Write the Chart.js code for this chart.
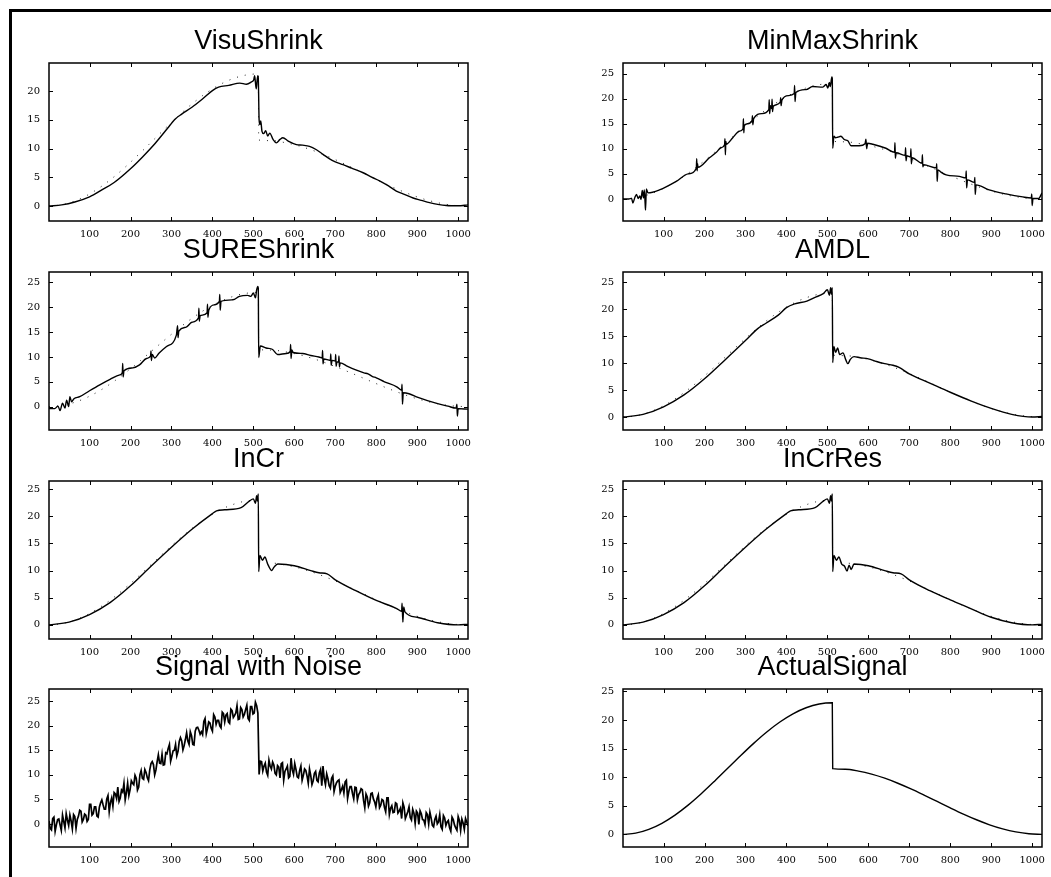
<!DOCTYPE html>
<html>
<head>
<meta charset="utf-8">
<script src="https://cdn.jsdelivr.net/npm/chart.js@4.4.0/dist/chart.umd.min.js"></script>
<style>
  body { margin: 0; background: #fff; }
  #page { position: relative; width: 1051px; height: 877px; overflow: hidden; background: #fff; }
  #frame { position: absolute; left: 9px; top: 9px; width: 1100px; height: 900px;
           border-left: 3px solid #000; border-top: 3px solid #000; }
  .panel { position: absolute; }
</style>
</head>
<body>
<div id="page"><div id="frame"></div></div>
<script>
// sample positions shown on the x axis, and y tick values
const xTicks = [100, 200, 300, 400, 500, 600, 700, 800, 900, 1000];
const yTicks = [0, 5, 10, 15, 20, 25];

// the clean signal (drawn dotted under each denoised curve)
const actualSignal = [[1,0],[32,0.22],[64,0.88],[96,1.94],[128,3.37],[160,5.11],[192,7.10],[224,9.26],[256,11.5],
  [288,13.74],[320,15.9],[352,17.89],[384,19.63],[416,21.06],[448,22.12],[480,22.78],[512,23.0],[513,11.5],
  [544,11.39],[576,11.06],[608,10.53],[640,9.82],[672,8.94],[704,7.95],[736,6.87],[768,5.75],[800,4.63],
  [832,3.55],[864,2.56],[896,1.68],[928,0.97],[960,0.44],[992,0.11],[1024,0]];

const visuShrink = [[1,0.0],[32,0.2],[64,0.7],[100,1.6],[130,2.8],[160,4.1],[200,6.5],[230,8.6],[260,10.9],
  [290,13.5],[310,15.2],[325,16.0],[350,17.2],[375,18.6],[400,20.1],[415,20.7],[440,21.0],[467,21.4],[483,21.2],
  [495,21.6],[501,22.0],[503,22.7],[505,21.5],[507,20.4],[509,21.8],[511,22.7],[512,22.3],[514,15.0],[516,14.2],
  [518,14.8],[521,13.0],[525,12.6],[530,13.1],[535,12.2],[540,12.7],[548,11.6],[556,11.0],[565,11.6],[572,11.9],
  [585,11.3],[605,10.7],[620,10.6],[637,10.4],[654,9.8],[670,9.0],[686,8.2],[700,7.7],[719,7.2],[740,6.6],
  [768,5.8],[790,5.0],[808,4.4],[830,3.5],[849,2.6],[870,2.0],[890,1.4],[910,1.0],[930,0.6],[950,0.3],[971,0.1],
  [1000,0.05],[1024,0.2]];

const minMaxShrink = [[1,0],[15,0],[22,0.1],[25,-0.8],[30,0.3],[34,0.9],[38,0.1],[42,0.6],[45,-0.1],[48,1.7],
  [51,0.2],[53,1.8],[55,-0.8],[56,-2.2],[58,2.0],[62,1.2],[90,1.8],[131,3.5],[160,5.0],[180,6.1],[181,8.0],
  [182,5.6],[183,7.0],[184,6.3],[212,8.2],[229,9.3],[240,10.2],[249,10.8],[250,12.0],[251,8.8],[252,11.4],
  [253,10.9],[269,12.2],[285,13.5],[294,14.0],[295,16.0],[296,13.2],[297,14.6],[305,15.0],[316,15.6],[317,16.6],
  [318,14.8],[320,16.0],[340,17.0],[357,17.8],[358,19.8],[359,17.0],[361,18.6],[364,18.0],[365,19.9],[366,17.4],
  [368,18.5],[385,19.3],[386,20.2],[387,18.6],[389,19.7],[405,20.6],[419,21.0],[420,22.6],[421,19.4],[423,21.2],
  [448,21.8],[464,22.4],[489,22.3],[497,22.8],[501,22.1],[505,23.2],[507,22.4],[511,24.3],[512,24.0],[513,10.1],
  [516,12.5],[520,12.2],[525,12.3],[533,12.5],[542,11.8],[550,11.6],[558,10.6],[578,10.6],[592,11.0],[594,11.9],
  [596,10.0],[598,11.1],[611,10.9],[643,10.1],[664,9.3],[665,11.2],[666,8.1],[668,9.2],[690,8.7],[691,10.2],
  [692,7.6],[694,8.6],[703,8.4],[704,10.0],[705,7.0],[707,8.2],[731,7.1],[732,8.8],[733,6.4],[735,6.8],[766,6.2],
  [767,7.0],[768,3.5],[770,5.8],[778,5.3],[790,4.8],[822,4.5],[838,4.2],[839,5.6],[840,2.2],[842,3.8],[859,3.3],
  [860,4.3],[861,0.9],[863,2.8],[895,1.8],[936,1.0],[977,0.4],[998,0.2],[999,1.0],[1000,-1.3],[1002,0.1],
  [1016,0.1],[1024,1.2]];

const sureShrink = [[1,-0.4],[15,-0.4],[23,0.1],[28,-0.8],[34,0.7],[40,-0.3],[44,1.3],[49,0.0],[52,2.0],[56,1.0],
  [62,1.6],[76,2.0],[100,3.2],[125,4.4],[150,5.5],[174,6.4],[180,6.9],[181,8.7],[182,6.0],[184,7.2],[206,7.8],
  [222,8.4],[239,9.7],[249,10.2],[250,11.2],[251,9.3],[253,10.5],[259,9.8],[270,10.8],[288,12.1],[312,14.4],
  [315,16.3],[316,13.9],[318,15.2],[336,16.0],[350,17.0],[366,17.9],[367,19.8],[368,17.2],[370,18.3],[387,18.9],
  [388,20.6],[389,18.0],[391,19.4],[405,20.5],[417,21.2],[418,22.6],[419,19.4],[421,21.2],[450,21.5],[466,22.2],
  [486,22.4],[494,22.2],[500,22.9],[505,21.9],[508,23.5],[511,24.2],[512,23.8],[513,9.9],[517,12.2],[531,11.8],
  [547,11.5],[559,10.5],[580,10.7],[590,11.1],[591,12.5],[592,9.7],[594,11.4],[597,10.9],[620,10.7],[640,10.3],
  [660,10.0],[668,9.8],[669,11.3],[670,8.6],[672,9.6],[688,9.3],[689,10.6],[690,8.3],[692,9.3],[700,9.2],
  [701,10.5],[702,8.1],[704,9.0],[708,9.0],[709,10.2],[710,8.0],[712,8.8],[730,8.1],[750,7.4],[770,6.8],
  [780,6.6],[790,6.1],[800,5.8],[820,5.0],[850,4.0],[862,3.3],[863,4.5],[864,0.5],[866,2.8],[880,2.6],[900,1.9],
  [925,1.2],[950,0.6],[975,0.1],[995,-0.3],[997,0.5],[998,-1.9],[1000,-0.4],[1024,-0.5]];

const amdl = [[1,0],[50,0.5],[100,1.9],[150,4.1],[200,7.1],[250,10.6],[300,14.2],[330,16.4],[350,17.4],[380,18.9],
  [400,20.3],[420,21.0],[450,21.5],[470,22.2],[490,22.9],[500,23.6],[505,22.6],[508,24.0],[510,22.8],[512,24.0],
  [513,10.1],[516,13.1],[520,12.0],[525,12.8],[530,11.6],[538,11.9],[545,10.6],[550,9.9],[556,10.7],[565,11.2],
  [580,11.0],[600,10.8],[620,10.3],[640,9.9],[660,9.6],[675,9.2],[700,8.0],[750,6.3],[800,4.6],[850,3.0],
  [900,1.6],[950,0.5],[1000,0.0],[1024,0.1]];

const inCr = [[1,0],[50,0.5],[100,1.9],[150,4.1],[200,7.2],[250,10.8],[300,14.3],[350,17.6],[400,20.5],[410,21.0],
  [430,21.2],[470,21.6],[490,22.8],[500,23.2],[505,22.4],[508,23.8],[510,22.8],[512,24.1],[513,9.8],[516,12.8],
  [522,11.9],[528,12.5],[535,11.2],[545,10.0],[550,10.6],[560,11.2],[600,10.9],[640,10.0],[660,9.6],[680,9.4],
  [700,8.3],[750,6.3],[800,4.5],[850,3.0],[862,2.5],[863,4.0],[865,0.5],[867,3.3],[870,2.4],[900,1.4],[950,0.4],
  [1000,0.0],[1024,0.1]];

const inCrRes = [[1,0],[50,0.5],[100,1.9],[150,4.1],[200,7.2],[250,10.8],[300,14.3],[350,17.6],[400,20.5],
  [410,21.0],[430,21.2],[470,21.6],[490,22.8],[500,23.2],[505,22.4],[508,23.8],[510,22.8],[512,24.1],[513,9.8],
  [516,12.8],[522,11.9],[528,12.5],[535,11.2],[542,10.8],[548,9.9],[553,11.0],[558,10.2],[565,11.2],[600,10.9],
  [640,10.0],[660,9.6],[680,9.4],[700,8.3],[750,6.3],[800,4.6],[850,3.0],[900,1.4],[950,0.4],[1000,0.0],[1024,0.1]];

const noisySignal = [[1,0.6],[4,-0.9],[7,-1.2],[10,1.1],[13,1.4],[16,-1.5],[19,-0.2],[22,0.9],[25,1.0],[28,-0.2],
  [31,-1.3],[34,1.8],[37,0.5],[40,-0.8],[43,2.1],[46,0.8],[49,-0.3],[52,1.8],[55,0.6],[58,-1.0],[61,1.9],[64,1.5],
  [67,-0.9],[70,0.9],[73,1.6],[76,2.8],[79,2.6],[82,0.4],[85,0.9],[88,2.0],[91,1.8],[94,0.5],[97,0.9],[100,4.0],
  [103,4.0],[106,1.8],[109,2.1],[112,3.5],[115,3.5],[118,1.6],[121,1.4],[124,3.4],[127,4.3],[130,4.9],[133,3.9],
  [136,3.0],[139,3.0],[142,5.1],[145,5.8],[148,2.5],[151,4.4],[154,5.3],[157,3.6],[160,6.4],[163,6.1],[166,5.2],
  [169,7.5],[172,4.6],[175,5.3],[178,6.9],[181,6.5],[184,8.3],[187,4.9],[190,6.4],[193,8.3],[196,5.8],[199,7.0],
  [202,8.8],[205,8.3],[208,8.0],[211,9.9],[214,9.3],[217,6.9],[220,7.5],[223,10.0],[226,10.9],[229,9.3],[232,9.1],
  [235,11.1],[238,10.5],[241,9.4],[244,8.8],[247,11.0],[250,12.3],[253,12.7],[256,12.1],[259,10.0],[262,11.0],
  [265,12.7],[268,14.1],[271,12.4],[274,12.3],[277,14.2],[280,12.0],[283,12.1],[286,14.5],[289,14.3],[292,15.4],
  [295,16.2],[298,12.8],[301,13.8],[304,14.9],[307,15.0],[310,16.2],[313,13.9],[316,14.8],[319,16.8],[322,17.6],
  [325,16.9],[328,15.1],[331,16.0],[334,17.2],[337,18.6],[340,16.9],[343,16.2],[346,18.8],[349,18.0],[352,16.2],
  [355,16.1],[358,18.9],[361,19.6],[364,19.7],[367,19.1],[370,18.3],[373,18.8],[376,18.2],[379,20.9],[382,21.5],
  [385,18.4],[388,19.5],[391,20.8],[394,20.6],[397,19.5],[400,18.9],[403,22.3],[406,21.8],[409,20.3],[412,21.1],
  [415,21.1],[418,20.0],[421,19.6],[424,22.8],[427,22.5],[430,20.8],[433,22.2],[436,22.5],[439,20.8],[442,20.5],
  [445,23.4],[448,23.1],[451,21.7],[454,22.1],[457,22.6],[460,24.1],[463,21.3],[466,21.4],[469,23.7],[472,23.3],
  [475,21.8],[478,22.3],[481,23.3],[484,24.2],[487,21.5],[490,21.1],[493,23.9],[496,23.9],[499,22.4],[502,22.6],
  [505,24.8],[508,24.1],[511,22.6],[514,10.1],[517,12.8],[520,12.7],[523,10.8],[526,11.8],[529,12.4],[532,10.6],
  [535,9.9],[538,13.0],[541,11.8],[544,11.2],[547,12.6],[550,12.0],[553,10.3],[556,10.0],[559,11.9],[562,11.6],
  [565,9.4],[568,12.3],[571,12.5],[574,8.9],[577,10.7],[580,11.2],[583,11.8],[586,9.4],[589,9.7],[592,13.4],
  [595,11.0],[598,10.1],[601,12.3],[604,11.1],[607,9.6],[610,9.4],[613,10.9],[616,11.8],[619,8.9],[622,9.9],
  [625,11.2],[628,10.9],[631,9.8],[634,8.3],[637,11.2],[640,9.9],[643,8.0],[646,8.8],[649,10.3],[652,10.7],
  [655,8.9],[658,8.6],[661,10.4],[664,11.1],[667,7.8],[670,11.8],[673,9.2],[676,8.0],[679,10.2],[682,9.2],
  [685,7.8],[688,7.3],[691,9.3],[694,9.8],[697,6.6],[700,7.7],[703,8.4],[706,8.8],[709,9.0],[712,6.4],[715,7.0],
  [718,7.7],[721,6.3],[724,8.6],[727,8.9],[730,5.2],[733,6.6],[736,7.6],[739,7.6],[742,6.2],[745,5.1],[748,7.5],
  [751,7.4],[754,4.9],[757,6.0],[760,6.4],[763,7.2],[766,7.0],[769,4.8],[772,3.3],[775,6.1],[778,5.5],[781,3.6],
  [784,4.3],[787,6.2],[790,6.3],[793,5.1],[796,4.5],[799,3.5],[802,5.2],[805,5.9],[808,3.3],[811,3.8],[814,5.0],
  [817,4.8],[820,3.4],[823,2.5],[826,5.3],[829,5.3],[832,1.9],[835,3.2],[838,3.7],[841,2.3],[844,2.4],[847,4.3],
  [850,4.1],[853,2.2],[856,2.6],[859,3.2],[862,1.1],[865,4.3],[868,3.4],[871,1.1],[874,1.8],[877,2.5],[880,3.5],
  [883,1.3],[886,0.8],[889,3.0],[892,2.2],[895,0.1],[898,2.6],[901,2.2],[904,-0.1],[907,2.7],[910,2.1],[913,0.9],
  [916,0.8],[919,-0.1],[922,2.3],[925,1.9],[928,0.0],[931,2.4],[934,1.2],[937,-0.3],[940,-0.6],[943,0.9],
  [946,1.6],[949,0.0],[952,0.4],[955,1.9],[958,-0.6],[961,-1.1],[964,1.7],[967,1.2],[970,-0.3],[973,0.4],
  [976,0.7],[979,-0.8],[982,-1.5],[985,1.4],[988,0.9],[991,-0.2],[994,-0.8],[997,-1.3],[1000,1.5],[1003,0.7],
  [1006,-1.3],[1009,1.0],[1012,0.2],[1015,-1.1],[1018,1.1],[1021,0.4],[1024,-0.4]];

// panel boxes: plot-area left/top in page pixels, plus y range
const panels = [
  { title: 'VisuShrink',        left: 49,  top: 63,  series: visuShrink,   ref: true,  yMin: -2.6, yMax: 24.9 },
  { title: 'MinMaxShrink',      left: 623, top: 63,  series: minMaxShrink, ref: true,  yMin: -4.4, yMax: 27.1 },
  { title: 'SUREShrink',        left: 49,  top: 272, series: sureShrink,   ref: true,  yMin: -4.7, yMax: 27.1 },
  { title: 'AMDL',              left: 623, top: 272, series: amdl,         ref: true,  yMin: -2.4, yMax: 26.9 },
  { title: 'InCr',              left: 49,  top: 481, series: inCr,         ref: true,  yMin: -2.6, yMax: 26.5 },
  { title: 'InCrRes',           left: 623, top: 481, series: inCrRes,      ref: true,  yMin: -2.6, yMax: 26.5 },
  { title: 'Signal with Noise', left: 49,  top: 689, series: noisySignal,  ref: false, yMin: -4.7, yMax: 27.5, jagged: true },
  { title: 'ActualSignal',      left: 623, top: 689, series: actualSignal, ref: false, yMin: -2.2, yMax: 25.4 }
];

const BOX_W = 419, BOX_H = 158;
const AXIS_W = 45, TITLE_H = 40, XAXIS_H = 28, PAD_R = 15;

// frame + inward tick marks on all four sides
const framePlugin = {
  id: 'frame',
  afterDatasetsDraw(chart) {
    const { ctx, chartArea: a, scales: { x, y } } = chart;
    ctx.save();
    ctx.strokeStyle = '#000';
    ctx.lineWidth = 1.5;
    ctx.strokeRect(a.left, a.top, a.right - a.left, a.bottom - a.top);
    ctx.lineWidth = 1;
    ctx.beginPath();
    x.ticks.forEach(t => {
      const px = Math.round(x.getPixelForValue(t.value)) + 0.5;
      ctx.moveTo(px, a.bottom); ctx.lineTo(px, a.bottom - 4);
      ctx.moveTo(px, a.top); ctx.lineTo(px, a.top + 4);
    });
    y.ticks.forEach(t => {
      const py = Math.round(y.getPixelForValue(t.value)) + 0.5;
      ctx.moveTo(a.left, py); ctx.lineTo(a.left + 4, py);
      ctx.moveTo(a.right, py); ctx.lineTo(a.right - 4, py);
    });
    ctx.stroke();
    ctx.restore();
  }
};

const toXY = pairs => pairs.map(([x, y]) => ({ x, y }));
const page = document.getElementById('page');

panels.forEach(p => {
  const div = document.createElement('div');
  div.className = 'panel';
  div.style.left = (p.left - AXIS_W) + 'px';
  div.style.top = (p.top - TITLE_H) + 'px';
  div.style.width = (AXIS_W + BOX_W + PAD_R) + 'px';
  div.style.height = (TITLE_H + BOX_H + XAXIS_H) + 'px';
  const canvas = document.createElement('canvas');
  div.appendChild(canvas);
  page.appendChild(div);

  const datasets = [{
    data: toXY(p.series),
    borderColor: '#000',
    borderWidth: p.jagged ? 1.7 : 1.4,
    pointRadius: 0,
    tension: 0,
    cubicInterpolationMode: p.jagged ? 'default' : 'monotone',
    order: 1
  }];
  if (p.ref) {
    datasets.push({
      data: toXY(actualSignal),
      borderColor: '#222',
      borderWidth: 1,
      borderDash: [1, 7],
      pointRadius: 0,
      cubicInterpolationMode: 'monotone',
      order: 2
    });
  }

  new Chart(canvas, {
    type: 'line',
    data: { datasets },
    options: {
      responsive: true,
      maintainAspectRatio: false,
      animation: false,
      devicePixelRatio: 1,
      layout: { padding: { left: 0, right: PAD_R, top: 0, bottom: 0 } },
      plugins: {
        legend: { display: false },
        tooltip: { enabled: false },
        title: {
          display: true,
          text: p.title,
          fullSize: false,
          color: '#000',
          font: { family: 'Liberation Sans', size: 27, weight: 'normal', lineHeight: 1.2 },
          padding: { top: 2.8, bottom: 4.8 }
        }
      },
      scales: {
        x: {
          type: 'linear',
          min: 1, max: 1024,
          grid: { display: false, drawTicks: false },
          border: { display: false },
          afterBuildTicks: s => { s.ticks = xTicks.map(v => ({ value: v })); },
          afterFit: s => { s.height = XAXIS_H; },
          ticks: {
            color: '#000', padding: 7, maxRotation: 0, autoSkip: false,
            font: { family: 'DejaVu Serif', size: 10 },
            callback: v => String(v)
          }
        },
        y: {
          type: 'linear',
          min: p.yMin, max: p.yMax,
          grid: { display: false, drawTicks: false },
          border: { display: false },
          afterBuildTicks: s => { s.ticks = yTicks.filter(v => v >= p.yMin && v <= p.yMax).map(v => ({ value: v })); },
          afterFit: s => { s.width = AXIS_W; },
          ticks: {
            color: '#000', padding: 9,
            font: { family: 'DejaVu Serif', size: 10 },
            callback: v => String(v)
          }
        }
      }
    },
    plugins: [framePlugin]
  });
});
</script>
</body>
</html>
